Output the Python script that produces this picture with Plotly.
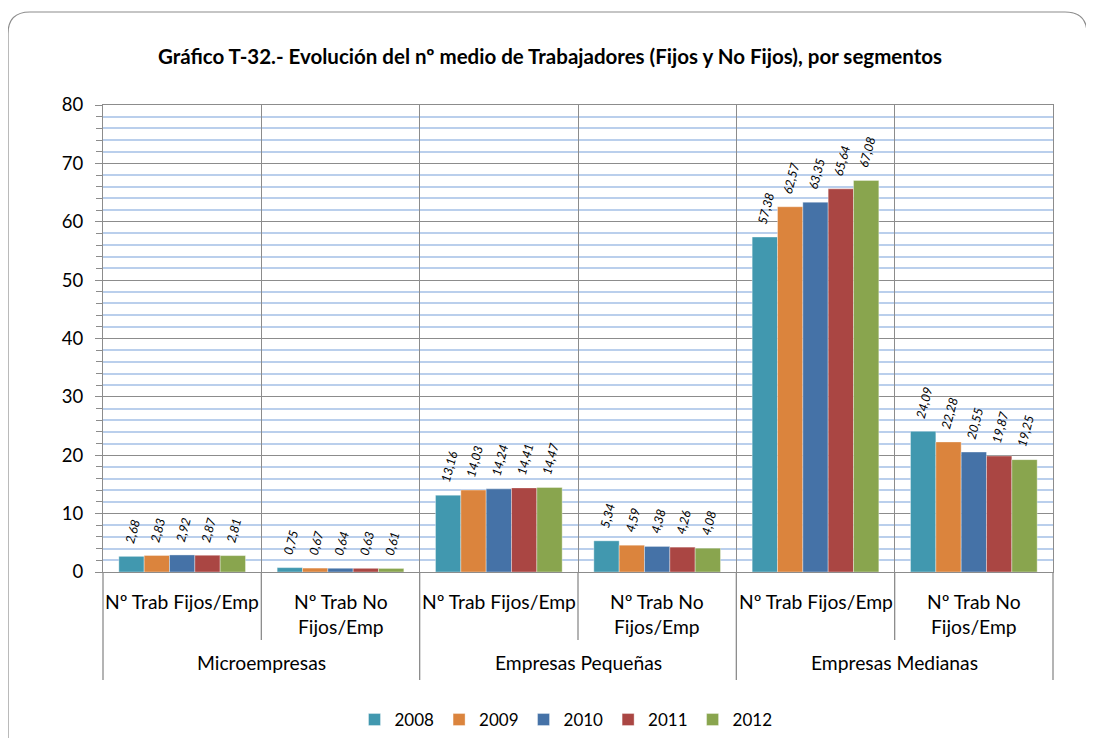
import plotly.graph_objects as go

years = ["2008", "2009", "2010", "2011", "2012"]
groups = ["Microempresas", "Microempresas", "Empresas Pequeñas", "Empresas Pequeñas",
          "Empresas Medianas", "Empresas Medianas"]
subcats = ["Nº Trab Fijos/Emp", "Nº Trab No<br>Fijos/Emp"] * 3
values = {
    "2008": [2.68, 0.75, 13.16, 5.34, 57.38, 24.09],
    "2009": [2.83, 0.67, 14.03, 4.59, 62.57, 22.28],
    "2010": [2.92, 0.64, 14.24, 4.38, 63.35, 20.55],
    "2011": [2.87, 0.63, 14.41, 4.26, 65.64, 19.87],
    "2012": [2.81, 0.61, 14.47, 4.08, 67.08, 19.25],
}
colors = {"2008": "#4198AF", "2009": "#DB843D", "2010": "#4572A7",
          "2011": "#AA4643", "2012": "#89A54E"}
group_labels = ["Microempresas", "Empresas Pequeñas", "Empresas Medianas"]

FONT = "Lato, 'Open Sans', sans-serif"
GRID = "#8C8C8C"

# page geometry (browser body has 8px margin)
OFF = 8
W, H = 1094 - OFF, 738 - OFF
px_left, px_right, px_top, px_bottom = 103, 1053, 105, 572
pw = px_right - px_left
ph = px_bottom - px_top
def fx(p): return (p - px_left) / pw
def fy(p): return (px_bottom - p) / ph

fig = go.Figure()
xcats = [f"c{i}" for i in range(len(subcats))]
for y in years:
    fig.add_trace(go.Bar(
        name=y, x=xcats, y=values[y],
        marker=dict(color=colors[y], line=dict(color="rgba(255,255,255,0.6)", width=0.6)),
        texttemplate="\u2003%{y:.2f}", textposition="outside", textangle=-75,
        constraintext="none", cliponaxis=False,
        textfont=dict(family=FONT, size=12.5, color="#000000", style="italic"),
    ))

n = len(subcats)
shapes = []
for i in range(n + 1):
    xf = i / n
    depth = 108 if i % 2 == 0 else 68
    shapes.append(dict(type="line", xref="paper", yref="paper", x0=xf, x1=xf,
                       y0=0, y1=-depth / ph, line=dict(color=GRID, width=1.3)))

L, R, T, B, r = 8, 1087, 12, 760, 22
path = (f"M {fx(L)},{fy(B)} L {fx(L)},{fy(T + r)} Q {fx(L)},{fy(T)} {fx(L + r)},{fy(T)} "
        f"L {fx(R - r)},{fy(T)} Q {fx(R)},{fy(T)} {fx(R)},{fy(T + r)} L {fx(R)},{fy(B)}")
shapes.append(dict(type="path", xref="paper", yref="paper", path=path,
                   line=dict(color="#8C8C8C", width=1.2)))

annotations = []
for i, s in enumerate(subcats):
    annotations.append(dict(x=(i + 0.5) / n, y=-16 / ph, xref="paper", yref="paper",
                            text=s, showarrow=False, yanchor="top", xanchor="center",
                            font=dict(family=FONT, size=19.3, color="#000000")))
for j, g in enumerate(group_labels):
    annotations.append(dict(x=(2 * j + 1) / n, y=-90 / ph, xref="paper", yref="paper",
                            text=g, showarrow=False, yanchor="middle", xanchor="center",
                            font=dict(family=FONT, size=19.3, color="#000000")))

fig.update_layout(
    width=W, height=H,
    margin=dict(l=px_left - OFF, r=W - (px_right - OFF), t=px_top - OFF, b=H - (px_bottom - OFF),
                autoexpand=False),
    paper_bgcolor="white", plot_bgcolor="white",
    separators=",.",
    barmode="group", bargap=0.2, bargroupgap=0,
    title=dict(text="<b>Gráfico T-32.- Evolución del nº medio de Trabajadores (Fijos y No Fijos), por segmentos</b>",
               x=(550 - OFF) / W, xanchor="center", xref="container",
               y=1 - (57 - OFF) / H, yanchor="middle",
               font=dict(family=FONT, size=20.5, color="#000000")),
    xaxis=dict(type="category", tickson="boundaries", showticklabels=False,
               showgrid=True, gridcolor=GRID, gridwidth=1.2,
               showline=True, linecolor=GRID, linewidth=1.3, mirror=True,
               ticks="", range=[-0.5, n - 0.5]),
    yaxis=dict(range=[0, 80], dtick=10, tick0=0, showgrid=True, gridcolor=GRID, gridwidth=1.2,
               ticks="outside", ticklen=7, tickcolor=GRID, tickwidth=1.2,
               showline=True, linecolor=GRID, linewidth=1.3, mirror=True,
               zeroline=False, ticklabelstandoff=8,
               tickfont=dict(family=FONT, size=18.5, color="#000000"),
               minor=dict(dtick=2, showgrid=True, gridcolor="#BACFEC", gridwidth=1.5,
                          ticks="outside", ticklen=6, tickcolor=GRID, tickwidth=1)),
    legend=dict(orientation="h", x=fx(566), xanchor="center", y=fy(720), yanchor="middle",
                font=dict(family=FONT, size=17, color="#000000"),
                itemwidth=30, tracegroupgap=0),
    shapes=shapes, annotations=annotations,
    showlegend=True,
)

fig.write_html("out.html")
